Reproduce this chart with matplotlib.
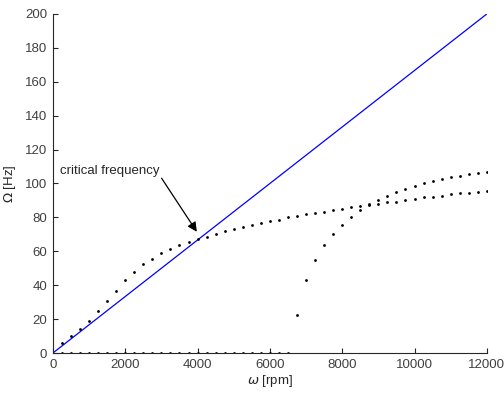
import numpy as np
import matplotlib.pyplot as plt

plt.rcParams['font.family'] = ['Liberation Sans', 'DejaVu Sans']
plt.rcParams['mathtext.fontset'] = 'dejavusans'

# rotor speed [rpm] and eigenfrequencies [Hz]
rpm_a = list(range(250, 12001, 250))
freq_a = [5.7, 10.0, 14.2, 18.9, 24.6, 30.7, 36.8, 42.9, 48.0, 52.3,
          55.7, 58.8, 61.2, 63.5, 65.5, 67.1, 68.6, 70.4, 72.2, 73.0,
          74.3, 75.7, 76.7, 77.7, 78.6, 80.0, 81.0, 81.8, 82.4, 83.2,
          84.2, 85.1, 86.0, 86.5, 87.4, 88.1, 88.9, 89.3, 90.3, 90.9,
          91.8, 92.2, 92.8, 93.6, 94.2, 94.6, 95.0, 95.6]

rpm_b = list(range(250, 12001, 250))
freq_b = [0.0] * 26 + [22.2, 42.9, 54.7, 63.5, 70.0, 75.7, 80.4, 84.2,
                       87.8, 90.4, 92.6, 95.0, 96.9, 98.3, 100.1, 101.3,
                       102.5, 103.7, 104.7, 105.6, 106.4, 106.8]

# excitation line: 1x rotational speed
rpm_line = [0, 12000]
freq_line = [0, 200]

txt_col = '#404040'

fig = plt.figure(figsize=(5.04, 3.98), dpi=100)
ax = fig.add_axes([0.105, 0.113, 0.861, 0.852])

ax.plot(rpm_line, freq_line, color='#0000ff', linewidth=0.9)
ax.plot(rpm_a, freq_a, 'k.', markersize=4, markeredgewidth=0)
ax.plot(rpm_b, freq_b, 'k.', markersize=4, markeredgewidth=0)

ax.text(190, 107.6, 'critical frequency', fontsize=9.5, color='#262626',
        ha='left', va='center')
ax.annotate('', xy=(3980, 71.5), xytext=(3005, 103.1),
            arrowprops=dict(arrowstyle='-|>', color='k', lw=0.9,
                            mutation_scale=14, shrinkA=0, shrinkB=0))

ax.set_xlim(0, 12000)
ax.set_ylim(0, 200)
ax.set_xticks(np.arange(0, 12001, 2000))
ax.set_yticks(np.arange(0, 201, 20))
ax.set_xlabel(r'$\omega$ [rpm]', fontsize=9.5, color='#262626', labelpad=2)
ax.set_ylabel(r'$\Omega$ [Hz]', fontsize=9.5, color='#262626', labelpad=5)

for s in ['top', 'right']:
    ax.spines[s].set_visible(False)
for s in ['left', 'bottom']:
    ax.spines[s].set_color('#262626')
    ax.spines[s].set_linewidth(0.8)
ax.tick_params(direction='in', length=3.5, width=0.8, colors='#262626',
               labelcolor=txt_col, labelsize=9.5, pad=4)

fig.savefig('out.png', dpi=100)
